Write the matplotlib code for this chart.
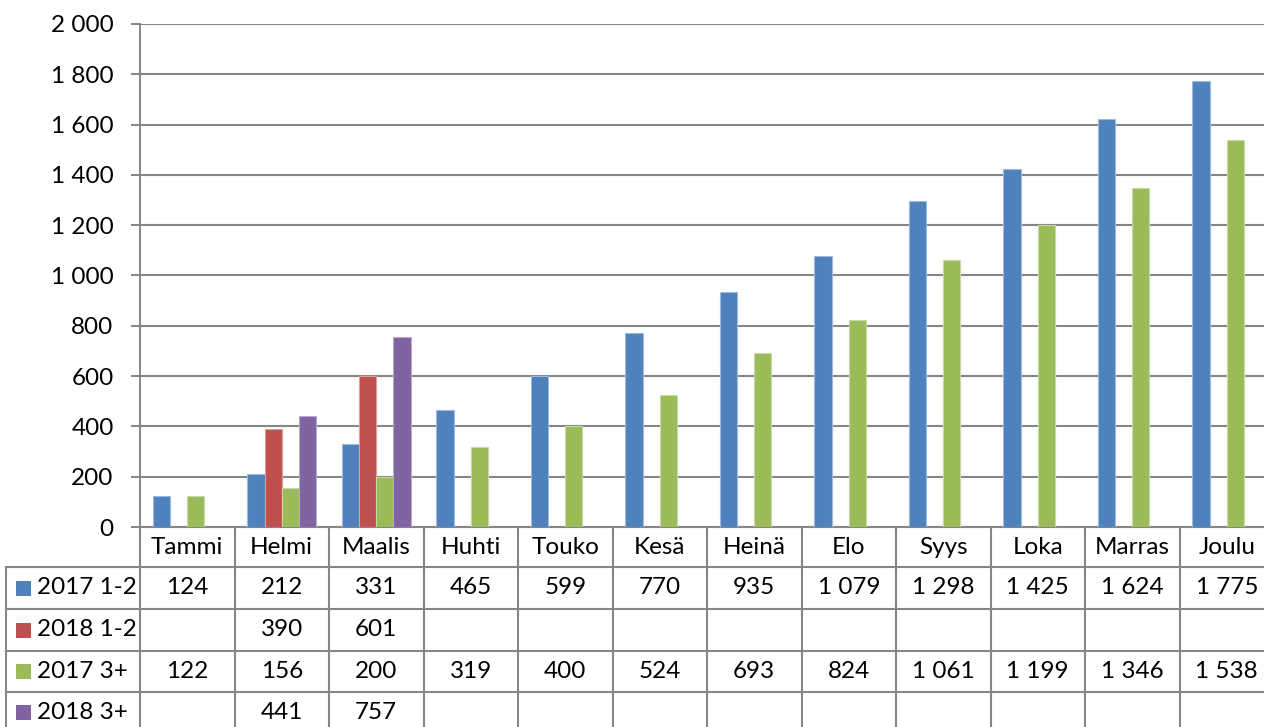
import matplotlib
matplotlib.use("Agg")
import matplotlib.pyplot as plt
from matplotlib.transforms import blended_transform_factory
from matplotlib.lines import Line2D
from matplotlib.patches import Rectangle
from matplotlib.colors import to_rgb

# Chart data
months = ["Tammi", "Helmi", "Maalis", "Huhti", "Touko", "Kesä",
          "Heinä", "Elo", "Syys", "Loka", "Marras", "Joulu"]
series_names = ["2017 1-2", "2018 1-2", "2017 3+", "2018 3+"]
v2017_12 = [124, 212, 331, 465, 599, 770, 935, 1079, 1298, 1425, 1624, 1775]
v2018_12 = [None, 390, 601, None, None, None, None, None, None, None, None, None]
v2017_3 = [122, 156, 200, 319, 400, 524, 693, 824, 1061, 1199, 1346, 1538]
v2018_3 = [None, 441, 757, None, None, None, None, None, None, None, None, None]
series = [v2017_12, v2018_12, v2017_3, v2018_3]
colors = ["#4F81BD", "#C0504D", "#9BBB59", "#8064A2"]
yticks = [0, 200, 400, 600, 800, 1000, 1200, 1400, 1600, 1800, 2000]

W, H = 1264, 727
GRID = "#868686"
FONT = "Lato"
FS = 17.5

plt.rcParams['font.family'] = [FONT, 'DejaVu Sans']


def fmt(v):
    # Finnish style thousands separator
    return f"{v:,}".replace(",", " ")


def lighten(c, amt=0.45):
    r, g, b = to_rgb(c)
    return (r + (1 - r) * amt, g + (1 - g) * amt, b + (1 - b) * amt)


fig = plt.figure(figsize=(W / 100, H / 100), dpi=100)
# plot area: x 140..1274 px (cropped at right), y 24..527 px from top
ax = fig.add_axes([140 / W, (H - 527) / H, 1134 / W, 503 / H])
ax.set_xlim(-0.5, 11.5)
ax.set_ylim(0, 2000)

bw = 1 / 5.5  # gap width 150 %
for j, (vals, col) in enumerate(zip(series, colors)):
    xs = [i + (j - 1.5) * bw for i, v in enumerate(vals) if v is not None]
    hs = [v for v in vals if v is not None]
    ax.bar(xs, hs, width=bw, color=col, edgecolor=lighten(col), linewidth=0.8, zorder=3)

ax.set_yticks(yticks)
ax.set_yticklabels([fmt(t) for t in yticks], fontsize=FS)
ax.yaxis.grid(True, color=GRID, linewidth=1.5, zorder=0)
ax.set_axisbelow(True)
ax.tick_params(axis='y', direction='out', length=6.5, width=1.4, color=GRID, pad=12.5)
ax.tick_params(axis='x', bottom=False, labelbottom=False)
for s in ["top", "right"]:
    ax.spines[s].set_visible(False)
ax.spines["left"].set_color(GRID)
ax.spines["left"].set_linewidth(1.4)
ax.spines["bottom"].set_color(GRID)
ax.spines["bottom"].set_linewidth(1.5)

# data table below the plot area
def ya(py):
    # pixel row (from top) -> axes fraction
    return (527 - py) / 503

tr = blended_transform_factory(ax.transData, ax.transAxes)
tf = blended_transform_factory(fig.transFigure, ax.transAxes)

row_lines = [567, 609, 651, 692]
row_centers = [588, 630, 671.5, 712.5]

# vertical column separators
for i in range(13):
    ax.add_line(Line2D([i - 0.5, i - 0.5], [ya(527), ya(H)], transform=tr,
                       color=GRID, linewidth=1.5, clip_on=False))
# label column left border
ax.add_line(Line2D([6 / W, 6 / W], [ya(567), ya(H)], transform=tf,
                   color=GRID, linewidth=1.5, clip_on=False))
# horizontal row lines
for py in row_lines:
    ax.add_line(Line2D([6 / W, 1.0], [ya(py), ya(py)], transform=tf,
                       color=GRID, linewidth=1.5, clip_on=False))

# header
for i, m in enumerate(months):
    ax.text(i, ya(547), m, transform=tr, ha='center', va='center',
            fontsize=FS, clip_on=False)

# rows
for j, (name, vals, col) in enumerate(zip(series_names, series, colors)):
    cy = row_centers[j]
    ax.add_patch(Rectangle((16 / W, ya(cy + 7.5)), 15 / W, 15 / 503, transform=tf,
                           facecolor=col, edgecolor='none', clip_on=False))
    ax.text(37 / W, ya(cy), name, transform=tf, ha='left', va='center',
            fontsize=FS, clip_on=False)
    for i, v in enumerate(vals):
        if v is not None:
            ax.text(i, ya(cy), fmt(v), transform=tr, ha='center', va='center',
                    fontsize=FS, clip_on=False)

fig.savefig("out.png", dpi=100)
